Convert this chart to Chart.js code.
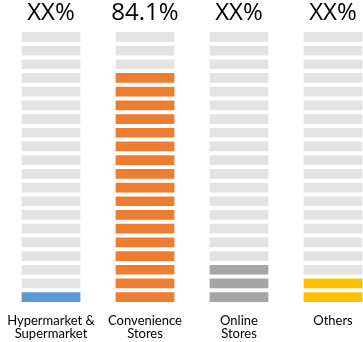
<!DOCTYPE html>
<html>
<head>
<meta charset="utf-8">
<script src="https://cdn.jsdelivr.net/npm/chart.js@4/dist/chart.umd.min.js"></script>
<style>
  html, body { margin: 0; padding: 0; background: #fff; overflow: hidden; }
  #wrap { position: absolute; left: 4px; top: 0; width: 376px; height: 342px; }
</style>
</head>
<body>
<div id="wrap"><canvas id="c"></canvas></div>
<script>
// ---- data ----
const categories   = [["Hypermarket &", "Supermarket"], ["Convenience", "Stores"], ["Online", "Stores"], ["Others"]];
const shareLabels  = ["XX%", "84.1%", "XX%", "XX%"];
const filledBlocks = [1, 17, 3, 2];     // coloured blocks, counted from the bottom
const totalBlocks  = 20;
const fillColors   = ["#5b9bd5", "#ed7d31", "#a5a5a5", "#ffc000"];
const emptyColor   = "#e3e3e3";

// one dataset per row of blocks, stacked
const datasets = [];
for (let row = 0; row < totalBlocks; row++) {
  datasets.push({
    label: "row " + (row + 1),
    data: categories.map(() => 1),
    backgroundColor: categories.map((_, i) => row < filledBlocks[i] ? fillColors[i] : emptyColor),
    borderColor: "#ffffff",
    borderWidth: { top: 2, bottom: 2, left: 0, right: 0 },
    borderSkipped: false,
    barPercentage: 0.63,
    categoryPercentage: 1,
  });
}

// texts above and below the columns
const textPlugin = {
  id: "texts",
  afterDraw(chart) {
    const { ctx, chartArea, scales } = chart;
    ctx.save();
    ctx.fillStyle = "#000";
    ctx.textAlign = "center";
    ctx.textBaseline = "middle";
    categories.forEach((lines, i) => {
      const x = scales.x.getPixelForValue(i);
      ctx.font = "24px 'Open Sans'";
      ctx.fillText(shareLabels[i], x, chartArea.top - 17);
      ctx.font = "13px Lato";
      lines.forEach((t, k) => ctx.fillText(t, x, chartArea.bottom + 17 + k * 13));
    });
    ctx.restore();
  }
};

new Chart(document.getElementById("c"), {
  type: "bar",
  data: { labels: categories.map(l => l.join(" ")), datasets },
  options: {
    responsive: true,
    maintainAspectRatio: false,
    animation: false,
    layout: { padding: { top: 30, bottom: 38, left: 0, right: 0 } },
    scales: {
      x: { stacked: true, display: false },
      y: { stacked: true, display: false, min: 0, max: totalBlocks },
    },
    plugins: {
      legend: { display: false },
      tooltip: { enabled: false },
    },
  },
  plugins: [textPlugin],
});
</script>
</body>
</html>
